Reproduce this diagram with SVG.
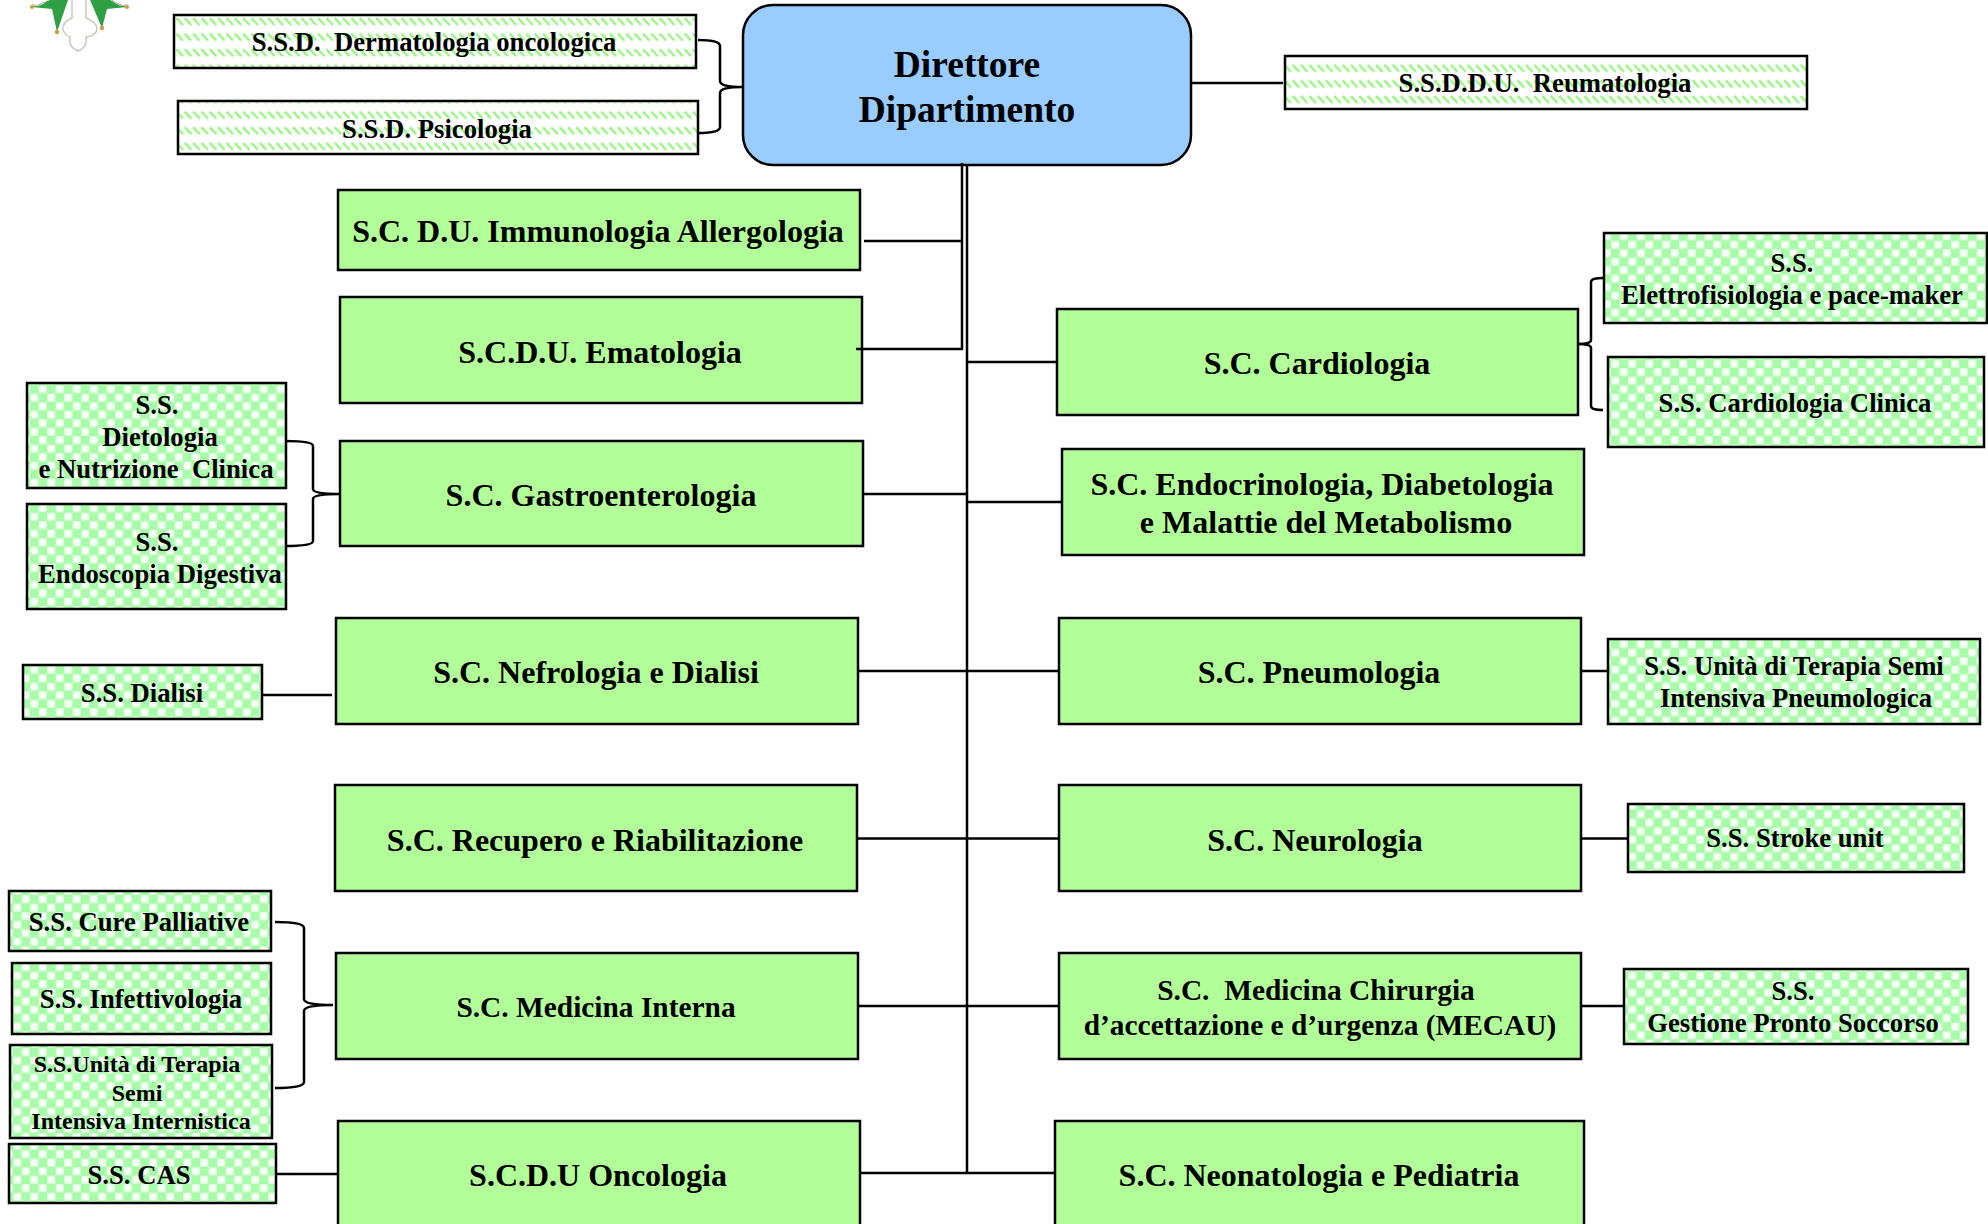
<svg xmlns="http://www.w3.org/2000/svg" width="1988" height="1224" viewBox="0 0 1988 1224">
<style>
text{font-family:"Liberation Serif","Times New Roman",serif;font-weight:700;fill:#000;text-anchor:middle;white-space:pre}
.m{font-size:32px}.s{font-size:26.7px}.d{font-size:37.5px}.t{font-size:29.4px}.u{font-size:24px}
.b{fill:#b2ff99;stroke:#000;stroke-width:2.5}
.c{fill:url(#chk);stroke:#000;stroke-width:2.5}
.w{fill:url(#diag);stroke:#000;stroke-width:2.5}
.l{fill:none;stroke:#000;stroke-width:2.5}
</style>
<defs>
<pattern id="chk" width="17" height="17" patternUnits="userSpaceOnUse" x="30" y="385">
<rect width="17" height="17" fill="#cffdcf"/>
<rect x="0" y="0" width="8.5" height="8.5" fill="#a8fba8"/>
<rect x="8.5" y="8.5" width="8.5" height="8.5" fill="#a8fba8"/>
<circle cx="12.7" cy="4.2" r="3.6" fill="#f6fff6"/>
<circle cx="4.2" cy="12.7" r="3.6" fill="#f6fff6"/>
</pattern>
<pattern id="diag" width="8.33" height="15.6" patternUnits="userSpaceOnUse" x="176" y="16">
<rect width="8.33" height="15.6" fill="#fff"/>
<path d="M0.5 2L7 9" stroke="#92f77a" stroke-width="2.2" fill="none"/>
</pattern>
</defs>
<g id="logo">
<path d="M32 7L50 0H68L57 32L52 9Z" fill="#2ea043"/>
<path d="M127 7L110 0H90L102 28L107 9Z" fill="#2ea043"/>
<path d="M72 0V18Q62 22 63 30Q66 36 70 37Q68 47 78 51Q88 47 86 37Q97 36 97 28Q96 22 86 18V0" fill="#fff" stroke="#c9c6bd" stroke-width="1.4"/>
<path d="M32 4Q38 8 45 2M127 4Q121 8 112 0" fill="none" stroke="#c9c6bd" stroke-width="1.2"/>
<g fill="#d39a3c"><circle cx="32" cy="7" r="2"/><circle cx="57" cy="32" r="2.2"/><circle cx="102" cy="28" r="2.2"/><circle cx="127" cy="7" r="2"/></g>
</g>
<g id="direttore"><rect x="743" y="5" width="448" height="160" rx="30" fill="#99ccff" stroke="#000" stroke-width="2.5"/><text class="d" x="967" y="77">Direttore</text><text class="d" x="967" y="122">Dipartimento</text></g>
<g id="ssd-dermatologia"><rect class="w" x="174" y="15" width="522" height="53"/><text class="s" x="434" y="51">S.S.D.  Dermatologia oncologica</text></g>
<g id="ssd-psicologia"><rect class="w" x="178" y="101" width="520" height="53"/><text class="s" x="437" y="138">S.S.D. Psicologia</text></g>
<g id="ssddu-reumatologia"><rect class="w" x="1285" y="56" width="522" height="53"/><text class="s" x="1545" y="92">S.S.D.D.U.  Reumatologia</text></g>
<g id="immunologia"><rect class="b" x="338" y="190" width="522" height="80"/><text class="m" x="598" y="242">S.C. D.U. Immunologia Allergologia</text></g>
<g id="ematologia"><rect class="b" x="340" y="297" width="522" height="106"/><text class="m" x="600" y="363">S.C.D.U. Ematologia</text></g>
<g id="gastroenterologia"><rect class="b" x="340" y="441" width="523" height="105"/><text class="m" x="601" y="506">S.C. Gastroenterologia</text></g>
<g id="nefrologia"><rect class="b" x="336" y="618" width="522" height="106"/><text class="m" x="596" y="683">S.C. Nefrologia e Dialisi</text></g>
<g id="recupero"><rect class="b" x="335" y="785" width="522" height="106"/><text class="m" x="595" y="851">S.C. Recupero e Riabilitazione</text></g>
<g id="medicina-interna"><rect class="b" x="336" y="953" width="522" height="106"/><text class="t" x="596" y="1017">S.C. Medicina Interna</text></g>
<g id="oncologia"><rect class="b" x="338" y="1121" width="522" height="120"/><text class="m" x="598" y="1186">S.C.D.U Oncologia</text></g>
<g id="cardiologia"><rect class="b" x="1057" y="309" width="521" height="106"/><text class="m" x="1317" y="374">S.C. Cardiologia</text></g>
<g id="endocrinologia"><rect class="b" x="1062" y="449" width="522" height="106"/><text class="m" x="1322" y="495">S.C. Endocrinologia, Diabetologia</text><text class="m" x="1326" y="533">e Malattie del Metabolismo</text></g>
<g id="pneumologia"><rect class="b" x="1059" y="618" width="522" height="106"/><text class="m" x="1319" y="683">S.C. Pneumologia</text></g>
<g id="neurologia"><rect class="b" x="1059" y="785" width="522" height="106"/><text class="m" x="1315" y="851">S.C. Neurologia</text></g>
<g id="mecau"><rect class="b" x="1059" y="953" width="522" height="106"/><text class="t" x="1316" y="1000">S.C.  Medicina Chirurgia</text><text class="t" x="1320" y="1035">d’accettazione e d’urgenza (MECAU)</text></g>
<g id="neonatologia"><rect class="b" x="1055" y="1121" width="529" height="120"/><text class="m" x="1319" y="1186">S.C. Neonatologia e Pediatria</text></g>
<g id="ss-dietologia"><rect class="c" x="27" y="383" width="259" height="105"/><text class="s" x="157" y="414">S.S.</text><text class="s" x="160" y="446">Dietologia</text><text class="s" x="156" y="478">e Nutrizione  Clinica</text></g>
<g id="ss-endoscopia"><rect class="c" x="27" y="504" width="259" height="105"/><text class="s" x="157" y="551">S.S.</text><text class="s" x="160" y="583">Endoscopia Digestiva</text></g>
<g id="ss-dialisi"><rect class="c" x="23" y="665" width="239" height="54"/><text class="s" x="142" y="702">S.S. Dialisi</text></g>
<g id="ss-cure"><rect class="c" x="9" y="891" width="262" height="60"/><text class="s" x="139" y="931">S.S. Cure Palliative</text></g>
<g id="ss-infettivologia"><rect class="c" x="12" y="963" width="259" height="71"/><text class="s" x="141" y="1008">S.S. Infettivologia</text></g>
<g id="ss-terapia-internistica"><rect class="c" x="10" y="1045" width="262" height="93"/><text class="u" x="137" y="1072">S.S.Unità di Terapia</text><text class="u" x="137" y="1101">Semi</text><text class="u" x="141" y="1129">Intensiva Internistica</text></g>
<g id="ss-cas"><rect class="c" x="9" y="1144" width="267" height="59"/><text class="s" x="139" y="1184">S.S. CAS</text></g>
<g id="ss-elettrofisiologia"><rect class="c" x="1604" y="233" width="383" height="90"/><text class="s" x="1792" y="272">S.S.</text><text class="s" x="1792" y="304">Elettrofisiologia e pace-maker</text></g>
<g id="ss-cardiologia-clinica"><rect class="c" x="1608" y="357" width="376" height="90"/><text class="s" x="1795" y="412">S.S. Cardiologia Clinica</text></g>
<g id="ss-terapia-pneumologica"><rect class="c" x="1608" y="639" width="372" height="85"/><text class="s" x="1794" y="675">S.S. Unità di Terapia Semi</text><text class="s" x="1796" y="707">Intensiva Pneumologica</text></g>
<g id="ss-stroke"><rect class="c" x="1628" y="804" width="336" height="68"/><text class="s" x="1795" y="847">S.S. Stroke unit</text></g>
<g id="ss-pronto-soccorso"><rect class="c" x="1624" y="969" width="344" height="75"/><text class="s" x="1793" y="1000">S.S.</text><text class="s" x="1793" y="1032">Gestione Pronto Soccorso</text></g>
<g id="connectors">
<path class="l" d="M962 163V349H856M962 241H864M967 165V1173"/>
<path class="l" d="M967 362H1057M863 494H967M967 502H1062M858 671H1059M857 838.500H1059M858 1006H1059M860 1173H1055"/>
<path class="l" d="M1191 83H1283M1581 671H1608M1581 838.500H1628M1581 1006H1624M262 695H332M276 1174H338"/>
<path class="l" d="M698 40Q720 40 720 46V81Q720 87 742 87Q720 87 720 93V127Q720 133 698 133"/>
<path class="l" d="M286 441Q313 441 313 446V489Q313 494 340 494Q313 494 313 499V541Q313 546 286 546"/>
<path class="l" d="M1603 278Q1591 278 1591 282V340Q1591 344 1578 344Q1591 344 1591 348V406Q1591 410 1603 410"/>
<path class="l" d="M275 922Q304 922 304 928V999Q304 1005 333 1005Q304 1005 304 1011V1082Q304 1088 275 1088"/>
</g>
</svg>
